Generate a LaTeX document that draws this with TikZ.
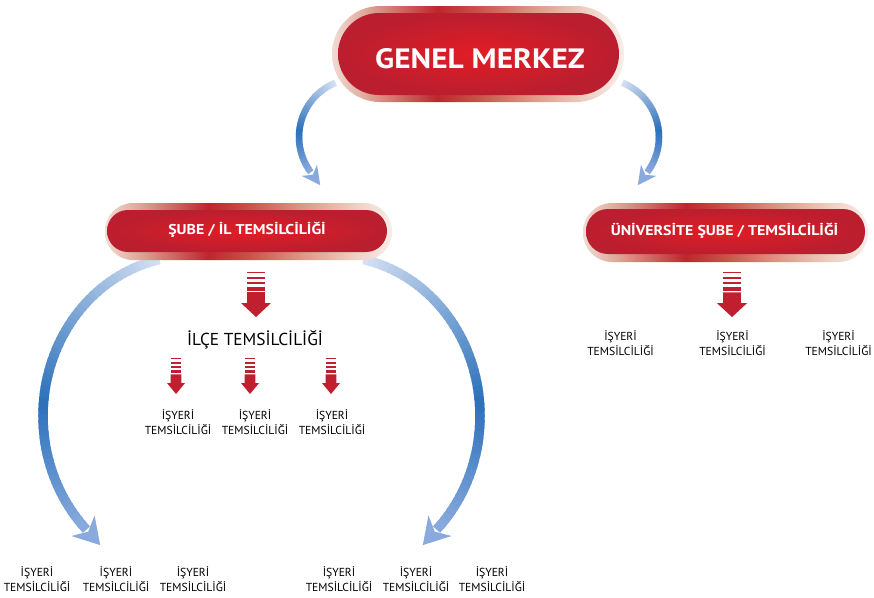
\documentclass[tikz,border=0pt]{standalone}
\usepackage{fontspec}
\setmainfont{PT Sans}[BoldFeatures={FakeStretch=1.12}]
\definecolor{bL}{HTML}{D6E0F3}
\definecolor{bD}{HTML}{2A70BA}
\definecolor{bE}{HTML}{8AAADE}
\definecolor{rD}{HTML}{BA1E2F}
\definecolor{rB}{HTML}{E21D25}
\definecolor{arrowred}{HTML}{C01F2F}
\definecolor{rimA}{HTML}{F1DCD3}
\definecolor{rimB}{HTML}{DDA798}
\definecolor{rimC}{HTML}{BF252C}
\definecolor{rimD}{HTML}{C95248}
\definecolor{rimE}{HTML}{DD9583}
\definecolor{rimF}{HTML}{F0D2C6}
\definecolor{rimG}{HTML}{F7EDE9}
\pgfdeclarehorizontalshading{rim}{100bp}{color(0bp)=(rimA); color(25bp)=(rimA); color(31bp)=(rimB); color(43bp)=(rimC); color(50bp)=(rimD); color(59bp)=(rimE); color(69bp)=(rimF); color(75bp)=(rimG); color(100bp)=(rimG)}
% gradient arc: cx, cy, rx, ry, a0, a1, width, head length, head half width
\newcommand\bluearc[9]{%
  \foreach \k in {0,...,59}{%
    \pgfmathsetmacro\ta{#5+(#6-#5)*\k/60}%
    \pgfmathsetmacro\tb{#5+(#6-#5)*(\k+1.6)/60}%
    \pgfmathsetmacro\tt{(\k+0.5)/60}%
    \pgfmathtruncatemacro\first{\tt<0.6}%
    \ifnum\first=1
      \pgfmathtruncatemacro\pc{100*\tt/0.6}%
      \colorlet{segc}{bD!\pc!bL}%
    \else
      \pgfmathtruncatemacro\pc{100*(1-(\tt-0.6)/0.4)}%
      \colorlet{segc}{bD!\pc!bE}%
    \fi
    \draw[segc, line width=#7] (#1,#2) ++(\ta:#3 and #4) arc[start angle=\ta, end angle=\tb, x radius=#3, y radius=#4];
  }%
  \pgfmathsetmacro\px{#1+#3*cos(#6)}%
  \pgfmathsetmacro\py{#2+#4*sin(#6)}%
  \pgfmathsetmacro\dr{(#6>#5) ? 1 : -1}%
  \pgfmathsetmacro\ux{-\dr*sin(#6)}%
  \pgfmathsetmacro\uy{\dr*(#4/#3)*cos(#6)}%
  \pgfmathsetmacro\ul{sqrt(\ux*\ux+\uy*\uy)}%
  \pgfmathsetmacro\ux{\ux/\ul}%
  \pgfmathsetmacro\uy{\uy/\ul}%
  \fill[bE] (\px+#8*\ux, \py+#8*\uy)
    -- (\px-0.08*#8*\ux-#9*\uy, \py-0.08*#8*\uy+#9*\ux)
    -- (\px+0.25*#8*\ux, \py+0.25*#8*\uy)
    -- (\px-0.08*#8*\ux+#9*\uy, \py-0.08*#8*\uy-#9*\ux) -- cycle;
}
% striped red arrow: x, ytop (px), xscale, yscale
\newcommand\redarr[4]{%
  \begin{scope}[shift={(#1,-#2)}, xscale=#3, yscale=#4]
    \fill[arrowred] (-8.8,0) rectangle (8.8,-1.5);
    \fill[arrowred] (-8.8,-5) rectangle (8.8,-7);
    \fill[arrowred] (-8.8,-10) rectangle (8.8,-12.5);
    \fill[arrowred] (-8.8,-15) rectangle (8.8,-19);
    \fill[arrowred] (-8.8,-20.5) -- (8.8,-20.5) -- (8.8,-31.5) -- (15,-31.5)
      -- (0,-45.5) -- (-15,-31.5) -- (-8.8,-31.5) -- cycle;
  \end{scope}}
\begin{document}
\begin{tikzpicture}[x=1pt,y=1pt,
  boxtitle/.style={text=white, inner sep=0, anchor=base, font=\bfseries\fontsize{14.2}{16}\selectfont},
  item/.style={align=center, inner sep=0, font=\fontsize{11.6}{15.5}\selectfont},
  ilce/.style={inner sep=0, anchor=base, font=\fontsize{17.3}{20}\selectfont}]
\useasboundingbox (0,0) rectangle (874,-597);
\fill[white] (0,0) rectangle (874,-597);

% blue curved arrows
\bluearc{357.5}{-137}{58.5}{58.5}{112}{216}{6.5}{17}{9.5}
\bluearc{600.5}{-137}{58.5}{58.5}{68}{-36}{6.5}{17}{9.5}
\bluearc{190}{-416}{147}{160}{102}{224}{9.5}{24}{15.5}
\bluearc{333}{-416}{147}{160}{78}{-44}{9.5}{24}{15.5}

% boxes
\path[shading=rim, rounded corners=48] (332,-6) rectangle (624,-102);
\path[inner color=rB, outer color=rD, rounded corners=41] (338,-13) rectangle (619,-95);
\node[boxtitle, font=\bfseries\fontsize{28}{30}\selectfont] (genel) at (480,-68) {GENEL MERKEZ};

\path[shading=rim, rounded corners=28] (105,-203) rectangle (392,-260);
\path[inner color=rB, outer color=rD, rounded corners=21] (107,-210) rectangle (387,-252);
\node[boxtitle] (sube) at (247,-234.3) {ŞUBE / İL TEMSİLCİLİĞİ};

\path[shading=rim, rounded corners=29] (583,-203) rectangle (868,-262);
\path[inner color=rB, outer color=rD, rounded corners=22] (586,-209) rectangle (865,-254);
\node[boxtitle] (univ) at (724.5,-235) {ÜNİVERSİTE ŞUBE / TEMSİLCİLİĞİ};

% red arrows
\redarr{256}{271.5}{1}{1}
\redarr{732}{272}{1}{0.99}
\redarr{176}{358.3}{0.6}{0.785}
\redarr{250}{358.3}{0.6}{0.785}
\redarr{331}{358.3}{0.6}{0.785}

\node[ilce] (ilce) at (255,-345) {İLÇE TEMSİLCİLİĞİ};

\node[item] (i1) at (178,-422) {İŞYERİ\\TEMSİLCİLİĞİ};
\node[item] (i2) at (255,-422) {İŞYERİ\\TEMSİLCİLİĞİ};
\node[item] (i3) at (332,-422) {İŞYERİ\\TEMSİLCİLİĞİ};

\node[item] (u1) at (620.5,-343) {İŞYERİ\\TEMSİLCİLİĞİ};
\node[item] (u2) at (732.5,-343) {İŞYERİ\\TEMSİLCİLİĞİ};
\node[item] (u3) at (838.5,-343) {İŞYERİ\\TEMSİLCİLİĞİ};

\node[item] (b1) at (37,-579) {İŞYERİ\\TEMSİLCİLİĞİ};
\node[item] (b2) at (116,-579) {İŞYERİ\\TEMSİLCİLİĞİ};
\node[item] (b3) at (193,-579) {İŞYERİ\\TEMSİLCİLİĞİ};
\node[item] (b4) at (339,-579) {İŞYERİ\\TEMSİLCİLİĞİ};
\node[item] (b5) at (416,-579) {İŞYERİ\\TEMSİLCİLİĞİ};
\node[item] (b6) at (492,-579) {İŞYERİ\\TEMSİLCİLİĞİ};
\end{tikzpicture}
\end{document}
